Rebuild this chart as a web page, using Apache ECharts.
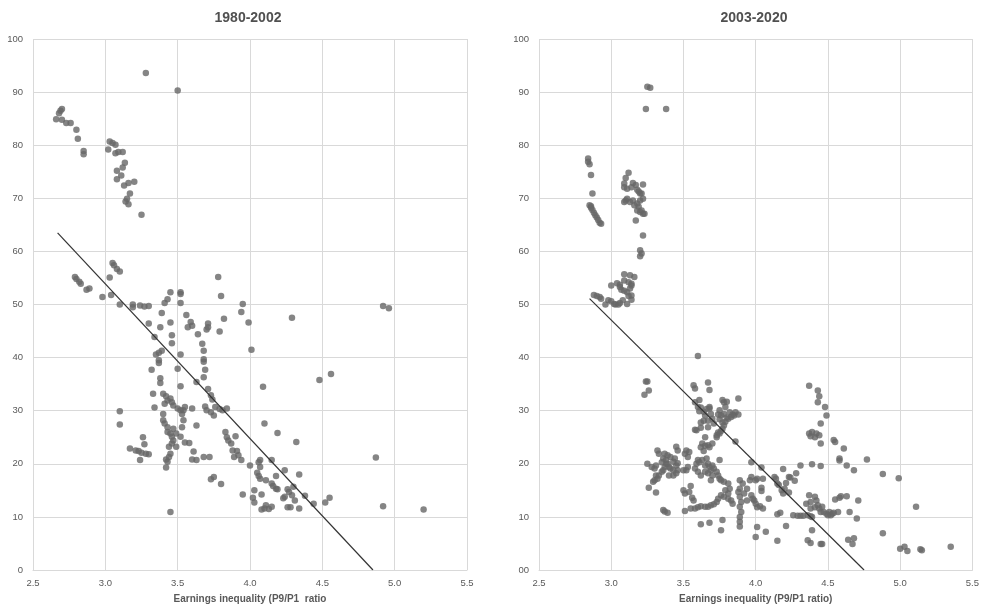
<!DOCTYPE html>
<html>
<head>
<meta charset="utf-8">
<script src="https://cdn.jsdelivr.net/npm/echarts@6/dist/echarts.min.js"></script>
<style>html,body{margin:0;padding:0;background:#fff}#c{width:982px;height:610px}</style>
</head>
<body>
<div id="c"></div>
<script>
// ---- titles & labels ----
const panelTitles = ['1980-2002', '2003-2020'];
const xAxisNames = ['Earnings inequality (P9/P1  ratio', 'Earnings inequality (P9/P1 ratio)'];
const xTickLabels = ['2.5', '3.0', '3.5', '4.0', '4.5', '5.0', '5.5'];
const yTickLabelsLeft = ['0', '10', '20', '30', '40', '50', '60', '70', '80', '90', '100'];
const yTickLabelsRight = ['00', '10', '20', '30', '40', '50', '60', '70', '80', '90', '100'];

// ---- 1980-2002 scatter points [P9/P1 ratio, value] ----
const points1980 = [
[3.28,93.6],[3.50,90.3],
[2.66,84.9],[2.68,86.0],[2.69,86.5],[2.70,86.8],[2.70,84.8],[2.73,84.2],[2.76,84.2],[2.80,82.9],[2.81,81.2],[2.85,78.9],[2.85,78.3],
[3.02,79.2],[3.03,80.7],[3.05,80.4],[3.07,80.1],[3.07,78.5],[3.09,78.7],[3.12,78.7],[3.135,76.7],[3.12,75.8],[3.08,75.2],[3.11,74.3],[3.08,73.6],[3.13,72.4],[3.16,72.9],[3.20,73.1],[3.17,70.9],[3.15,69.9],[3.14,69.4],[3.16,68.9],[3.25,66.9],
[2.79,55.2],[2.80,54.8],[2.82,54.3],[2.83,53.9],[2.87,52.8],[2.89,53.0],[2.98,51.4],[3.03,55.1],[3.05,57.8],[3.06,57.4],[3.08,56.7],[3.10,56.2],[3.04,51.8],[3.10,50.0],[3.19,50.0],[3.19,49.5],[3.24,49.8],[3.27,49.6],[3.30,49.7],
[3.41,50.3],[3.43,51.0],[3.45,52.3],[3.52,52.3],[3.52,52.0],[3.52,50.3],[3.78,55.2],[3.80,51.6],[3.95,50.1],[3.94,48.6],[3.39,48.4],[3.30,46.4],[3.38,45.7],[3.45,46.6],[3.56,48.0],[3.59,46.7],[3.60,46.0],[3.57,45.7],[3.71,46.4],[3.71,45.7],[3.70,45.3],[3.64,44.4],[3.79,44.9],[3.82,47.3],[3.99,46.6],[3.46,44.2],[3.46,42.7],[3.34,43.9],
[3.39,41.3],[3.37,40.9],[3.35,40.6],[3.37,39.5],[3.37,39.0],[3.67,42.6],[3.68,41.3],[3.68,39.7],[3.68,39.2],[4.01,41.5],[3.52,40.6],[3.32,37.7],[3.50,37.9],[3.38,36.1],[3.38,35.2],[3.69,37.7],[3.68,36.3],[3.63,35.4],[3.52,34.6],[3.71,34.1],[3.73,32.9],[3.74,32.1],
[4.09,34.5],[4.29,47.5],[4.48,35.8],[4.56,36.9],[4.92,49.7],[4.96,49.3],
[3.33,33.2],[3.40,33.2],[3.42,32.7],[3.43,31.9],[3.45,32.3],[3.46,31.6],[3.47,31.0],[3.50,30.4],[3.52,30.1],[3.54,30.1],[3.34,30.6],[3.41,31.3],[3.40,29.4],[3.40,28.2],[3.41,27.6],
[3.43,26.9],[3.43,26.0],[3.45,25.7],[3.46,25.1],[3.46,23.8],[3.44,23.2],[3.45,21.9],[3.44,21.3],[3.43,20.4],[3.42,19.3],[3.42,20.8],
[3.47,26.6],[3.49,25.7],[3.47,24.4],[3.49,23.2],[3.52,25.1],[3.53,26.9],[3.54,28.2],[3.53,29.4],[3.55,30.7],
[3.60,30.4],[3.63,27.2],[3.58,23.9],[3.61,22.3],[3.55,24.0],[3.60,20.8],
[3.69,30.8],[3.70,30.1],[3.73,29.7],[3.75,29.1],[3.76,30.7],[3.79,30.3],[3.81,30.1],[3.84,30.4],
[3.83,26.0],[3.84,25.0],[3.85,24.4],[3.87,23.8],[3.90,25.2],[3.88,22.5],[3.91,22.4],[3.92,21.6],[3.89,21.3],
[4.10,27.6],[3.63,20.7],[3.68,21.3],[3.72,21.3],[4.00,19.7],[4.06,20.3],[4.07,19.4],
[3.26,25.0],[3.27,23.7],[3.21,22.5],[3.25,22.1],[3.28,21.9],[3.30,21.8],[3.24,20.7],[3.17,22.9],[3.23,22.4],
[3.10,29.9],[3.10,27.4],[3.45,10.9],
[3.73,17.1],[3.75,17.5],[3.80,16.2],
[4.19,25.8],[4.32,24.1],[4.87,21.2],[3.94,20.7],[4.07,20.7],[4.15,20.7],[4.05,18.3],[4.06,17.7],[4.07,17.2],[4.18,17.7],[4.24,18.8],[4.34,18.0],[4.11,16.9],[4.15,16.3],[4.16,15.8],[4.18,15.3],[4.19,15.2],[4.26,15.2],[4.27,14.7],[4.29,14.1],[4.30,15.7],[4.31,13.1],[4.23,13.5],[4.24,13.8],[4.38,14.0],[4.03,15.0],[3.95,14.2],[4.02,13.6],[4.03,12.7],[4.08,14.2],[4.11,12.2],[4.15,11.9],[4.10,11.6],[4.26,11.8],[4.28,11.8],[4.34,11.6],[4.44,12.5],[4.52,12.7],[4.55,13.6],[4.92,12.0],[5.20,11.4],[4.08,11.4],[4.13,11.5]
];

// ---- 2003-2020 scatter points ----
const points2003 = [
[3.24,86.8],[3.25,91.0],[3.27,90.8],[3.38,86.8],
[2.84,77.5],[2.84,76.9],[2.85,76.4],[2.86,74.4],[2.87,70.9],
[3.12,74.8],[3.10,73.8],[3.09,72.8],[3.09,72.1],[3.11,71.8],[3.15,72.9],[3.17,72.5],[3.14,72.1],[3.22,72.6],[3.18,71.6],[3.19,71.3],[3.20,70.9],[3.21,70.9],
[3.10,69.6],[3.13,69.3],[3.15,69.6],[3.18,69.0],[3.20,69.6],[3.22,69.9],[3.11,69.9],[3.09,69.3],[3.16,68.7],[3.19,68.4],[3.21,67.7],[3.22,67.1],[3.20,67.4],[3.23,67.1],[3.18,67.7],[3.17,65.8],[3.22,63.0],[3.20,60.2],[3.21,59.6],[3.20,59.1],
[2.85,68.7],[2.86,68.5],[2.86,68.2],[2.87,67.8],[2.88,67.3],[2.89,66.8],[2.90,66.4],[2.91,65.9],[2.92,65.4],[2.93,65.2],
[3.13,55.5],[3.16,55.2],[3.09,55.7],[3.09,54.5],[3.12,54.2],[3.06,53.7],[3.00,53.6],[3.04,54.0],[3.06,53.3],[3.07,52.8],[3.09,52.6],[3.14,53.9],[3.13,53.0],[3.11,52.3],[3.14,53.6],
[2.88,51.8],[2.90,51.6],[2.92,51.4],[2.93,51.1],[2.96,50.0],[2.98,50.8],[3.00,50.6],[3.02,50.1],[3.03,50.0],[3.06,50.3],[3.08,50.8],[3.11,50.1],[3.12,51.6],[3.14,50.9],[3.14,51.7],[3.05,50.0],
[3.60,40.3],[3.24,35.5],[3.25,35.5],[3.26,33.8],[3.23,33.0],[3.57,34.8],[3.58,34.2],[3.67,35.3],[3.68,33.9],[3.61,32.0],[3.77,32.0],[3.80,31.7],[3.88,32.3],[4.37,34.7],[4.43,33.8],[4.44,32.7],
[3.58,31.6],[3.60,30.7],[3.61,29.9],[3.65,29.1],[3.68,30.4],[3.69,29.4],[3.70,28.5],[3.71,27.6],[3.67,26.9],[3.62,26.8],[3.58,26.4],[3.65,25.0],[3.63,23.8],[3.67,23.5],[3.70,23.8],[3.73,25.4],[3.75,25.7],[3.77,26.6],[3.78,27.2],[3.79,27.9],[3.81,28.5],[3.83,28.8],[3.85,29.1],[3.86,29.7],[3.88,29.3],[3.82,29.7],[3.78,29.4],[3.76,29.1],[3.75,30.1],[3.79,30.7],[3.78,31.6],[3.68,30.7],[3.86,24.2],
[3.62,30.6],[3.64,29.8],[3.66,30.3],[3.67,28.1],[3.64,28.1],[3.62,27.8],[3.59,26.3],[3.74,29.3],[3.75,28.4],[3.77,27.8],[3.84,29.3],[3.80,28.7],[3.74,25.9],[3.76,26.2],[3.73,25.0],[3.62,23.1],[3.65,23.4],[3.64,22.4],[3.68,23.1],
[3.25,20.0],[3.26,15.5],[3.31,14.6],[3.28,19.4],[3.30,19.1],[3.31,19.7],[3.32,22.5],[3.33,21.9],[3.37,21.9],[3.39,21.6],[3.41,21.3],[3.44,21.0],[3.43,20.4],[3.45,19.7],[3.46,20.1],[3.46,18.8],[3.45,18.2],[3.43,17.8],[3.40,17.8],[3.38,20.0],[3.37,19.4],[3.36,18.8],[3.35,18.5],[3.33,17.8],[3.32,17.2],[3.30,16.9],[3.29,16.6],[3.31,17.8],[3.35,20.3],[3.36,21.0],[3.38,20.7],[3.39,20.0],[3.40,19.4],[3.41,19.1],[3.43,18.8],[3.45,23.2],[3.46,22.5],[3.51,21.9],[3.52,22.5],[3.53,21.3],[3.54,22.2],[3.50,18.8],[3.52,18.8],[3.53,19.4],[3.58,19.1],[3.60,20.7],[3.36,11.3],[3.37,11.0],[3.39,10.8],[3.50,15.0],[3.51,14.4],[3.54,14.7],[3.56,13.6],[3.55,15.8],[3.51,11.1],[3.55,11.6],[3.58,11.6],[3.57,13.1],[3.62,8.6],[3.68,8.9],
[3.59,20.0],[3.61,20.3],[3.63,20.7],[3.65,19.7],[3.66,21.0],[3.67,20.0],[3.68,19.4],[3.69,18.8],[3.70,19.7],[3.71,19.1],[3.73,18.5],[3.74,17.8],[3.75,17.2],[3.76,16.9],[3.70,17.8],[3.69,16.9],[3.67,18.2],[3.65,18.5],[3.62,17.8],[3.60,18.5],[3.75,20.7],
[3.78,16.6],[3.81,16.3],[3.82,15.3],[3.79,15.0],[3.81,14.4],[3.78,13.8],[3.81,13.4],[3.83,13.1],[3.84,12.5],[3.76,14.1],[3.74,13.4],[3.73,12.8],[3.71,12.4],[3.69,12.2],[3.67,11.9],[3.65,11.9],[3.62,12.0],[3.60,11.8],
[3.89,16.9],[3.91,16.3],[3.89,15.3],[3.88,14.7],[3.89,13.8],[3.90,12.8],[3.89,11.9],[3.90,10.9],[3.89,10.0],[3.89,9.1],[3.89,8.2],[3.77,9.4],[3.76,7.5],
[3.92,14.4],[3.94,15.3],[3.97,14.1],[3.98,13.4],[3.99,13.1],[4.00,12.5],[4.01,11.8],[3.94,13.1],[3.96,16.9],[3.97,17.5],[3.97,20.3],[4.00,16.9],[4.01,17.2],[4.05,17.2],[4.04,15.5],[4.04,14.9],[4.09,13.4],[4.05,11.6],[4.03,12.0],[4.00,6.2],[4.01,8.1],[4.07,7.2],[4.04,19.3],
[4.13,17.5],[4.14,17.2],[4.15,16.3],[4.16,16.0],[4.18,15.0],[4.19,14.4],[4.20,15.3],[4.21,16.4],[4.23,14.6],[4.15,10.5],[4.17,10.8],[4.21,8.3],[4.15,5.5],[4.19,19.0],[4.23,17.5],[4.27,16.8],[4.28,18.2],[4.31,19.7],[4.39,19.9],
[4.26,10.3],[4.29,10.2],[4.31,10.2],[4.33,10.2],[4.36,10.3],[4.38,10.1],[4.39,10.0],
[4.35,12.5],[4.38,12.8],[4.41,13.8],[4.42,13.1],[4.38,11.6],[4.41,11.8],[4.43,12.2],[4.44,11.6],[4.45,10.9],[4.46,11.9],[4.47,10.9],[4.49,10.6],[4.50,10.3],[4.51,10.9],[4.52,10.3],[4.53,10.6],[4.54,10.8],[4.57,10.9],[4.37,14.1],
[4.39,7.5],[4.36,5.6],[4.38,5.1],[4.45,4.9],[4.46,4.9],
[4.55,13.3],[4.58,13.6],[4.59,13.9],[4.63,13.9],[4.65,10.9],[4.71,13.1],[4.70,9.7],[4.64,5.7],[4.67,4.9],[4.68,6.0],[4.88,6.9],[5.00,4.0],[5.03,4.4],[5.05,3.6],[5.14,3.9],[5.15,3.7],[5.35,4.4],[5.11,11.9],[4.88,18.1],[4.99,17.3],[4.77,20.8],[4.68,18.8],[4.63,19.7],[4.58,21.0],[4.58,20.6],[4.61,22.9],[4.54,24.5],[4.55,24.1],[4.45,19.6],[4.48,30.7],[4.49,29.1],[4.43,31.6],[4.37,25.7],[4.39,26.0],[4.41,25.0],[4.42,25.7],[4.44,25.4],[4.45,23.8],[4.38,25.2],[4.45,27.6],[4.24,17.4]
];

// ---- linear trend lines (endpoints) ----
const trend1980 = [[2.67, 63.5], [4.85, 0]];
const trend2003 = [[2.85, 51.1], [4.75, 0]];

const FONT = '"Liberation Sans", Arial, sans-serif';
const TXT = '#595959';
const GRIDC = '#d9d9d9';

function xAxisFor(gridIndex, name) {
  return {
    type: 'value', gridIndex, min: 2.5, max: 5.5, interval: 0.5,
    name, nameLocation: 'middle', nameGap: 24,
    nameTextStyle: { color: TXT, fontSize: 10, fontWeight: 'bold', fontFamily: FONT },
    axisLine: { show: true, lineStyle: { color: GRIDC, width: 1 } },
    axisTick: { show: false },
    axisLabel: { color: TXT, fontSize: 9.5, fontFamily: FONT, margin: 8,
      formatter: v => xTickLabels[Math.round((v - 2.5) / 0.5)] },
    splitLine: { show: true, lineStyle: { color: GRIDC, width: 1 } }
  };
}
function yAxisFor(gridIndex, labels) {
  return {
    type: 'value', gridIndex, min: 0, max: 100, interval: 10,
    axisLine: { show: false }, axisTick: { show: false },
    axisLabel: { color: TXT, fontSize: 9.5, fontFamily: FONT, margin: 10,
      formatter: v => labels[Math.round(v / 10)] },
    splitLine: { show: true, lineStyle: { color: GRIDC, width: 1 } }
  };
}

const chart = echarts.init(document.getElementById('c'), null, { renderer: 'canvas' });
chart.setOption({
  animation: false,
  backgroundColor: '#ffffff',
  title: [
    { text: panelTitles[0], left: 243, top: 6, textAlign: 'center',
      textStyle: { color: '#505050', fontSize: 14, fontWeight: 'bold', fontFamily: FONT } },
    { text: panelTitles[1], left: 749, top: 6, textAlign: 'center',
      textStyle: { color: '#505050', fontSize: 14, fontWeight: 'bold', fontFamily: FONT } }
  ],
  grid: [
    { left: 33, right: 515, top: 39, bottom: 40 },
    { left: 539, right: 9, top: 39, bottom: 40 }
  ],
  xAxis: [xAxisFor(0, xAxisNames[0]), xAxisFor(1, xAxisNames[1])],
  yAxis: [yAxisFor(0, yTickLabelsLeft), yAxisFor(1, yTickLabelsRight)],
  series: [
    { type: 'scatter', xAxisIndex: 0, yAxisIndex: 0, data: points1980, symbolSize: 6.5,
      itemStyle: { color: '#666666' }, silent: true },
    { type: 'scatter', xAxisIndex: 1, yAxisIndex: 1, data: points2003, symbolSize: 6.5,
      itemStyle: { color: '#666666' }, silent: true },
    { type: 'line', xAxisIndex: 0, yAxisIndex: 0, data: trend1980, showSymbol: false,
      lineStyle: { color: '#333333', width: 1.2 }, silent: true, z: 3 },
    { type: 'line', xAxisIndex: 1, yAxisIndex: 1, data: trend2003, showSymbol: false,
      lineStyle: { color: '#333333', width: 1.2 }, silent: true, z: 3 }
  ]
});
</script>
</body>
</html>
